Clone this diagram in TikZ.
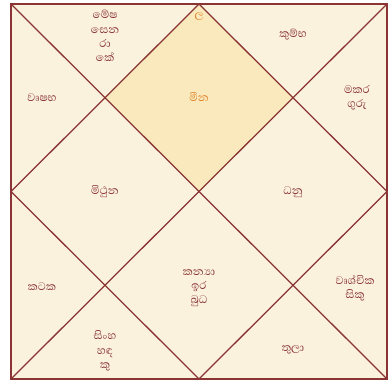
\documentclass[tikz,border=0pt]{standalone}
\usepackage{fontspec}
\newfontfamily\sinhala[Script=Sinhala]{Abhaya Libre}
\usetikzlibrary{calc}
\definecolor{chartbg}{HTML}{FBF2DD}
\definecolor{lagnabg}{HTML}{FAE9BC}
\definecolor{chartline}{HTML}{8A3434}
\definecolor{lagnatext}{HTML}{E0822A}

\begin{document}
\begin{tikzpicture}[
  x=0.25mm, y=-0.25mm,
  every node/.style={font=\sinhala\fontsize{10}{10.2}\selectfont, text=chartline, align=center, inner sep=0pt},
  frame/.style={draw=chartline, line width=1.3pt},
  divider/.style={draw=chartline, line width=0.9pt},
  lagna/.style={text=lagnatext}
]
\useasboundingbox (0,0) rectangle (389,383);

% ---------- Chart corners ----------
\coordinate (tl) at (11,4);
\coordinate (tr) at (387,4);
\coordinate (bl) at (11,379);
\coordinate (br) at (387,379);
\coordinate (top) at ($(tl)!0.5!(tr)$);
\coordinate (bottom) at ($(bl)!0.5!(br)$);
\coordinate (left) at ($(tl)!0.5!(bl)$);
\coordinate (right) at ($(tr)!0.5!(br)$);
\coordinate (centre) at ($(tl)!0.5!(br)$);

% ---------- Background and first house ----------
\fill[chartbg] (tl) rectangle (br);
\fill[lagnabg] (top) -- ($(top)!0.5!(right)$) -- (centre) -- ($(top)!0.5!(left)$) -- cycle;

% ---------- Dividing lines ----------
\draw[divider] (tl) -- (br);
\draw[divider] (tr) -- (bl);
\draw[divider] (top) -- (right) -- (bottom) -- (left) -- cycle;
\draw[frame] (tl) rectangle (br);

% ---------- Houses ----------
\node[lagna] (lagnamark) at (199,17) {ල};
\node[lagna] (meena) at (199,97) {මීන};
\node (kumbha) at (293,35) {කුම්භ};
\node (makara) at (357,98) {මකර\\ගුරු};
\node (dhanu) at (293,192) {ධනු};
\node (vrushchika) at (355,288) {වෘශ්චික\\සිකු};
\node (thula) at (293,350) {තුලා};
\node (kanya) at (199,288) {කන්‍යා\\ඉර\\බුධ};
\node (simha) at (105,351) {සිංහ\\හඳ\\කු};
\node (kataka) at (42,287) {කටක};
\node (mithuna) at (105,192) {මිථුන};
\node (vrushabha) at (42,98) {වෘෂභ};
\node (mesha) at (105,36) {මේෂ\\සෙන\\රා\\කේ};
\end{tikzpicture}
\end{document}
